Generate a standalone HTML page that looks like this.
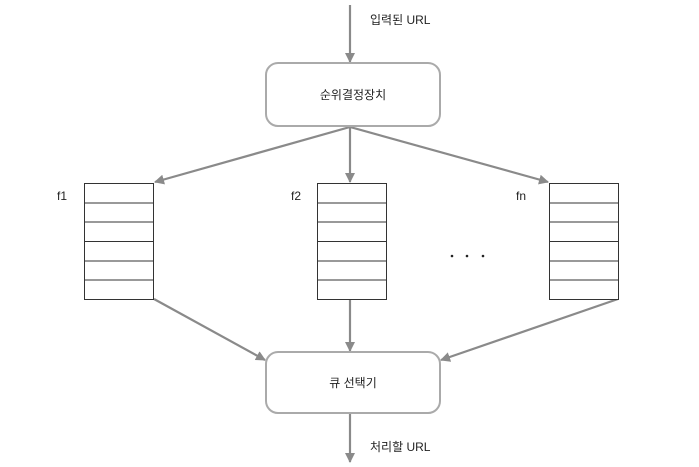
<!DOCTYPE html>
<html><head><meta charset="utf-8"><style>body{margin:0;background:#fff}svg{display:block}text{font-family:"Liberation Sans","Noto Sans CJK KR",sans-serif;font-size:12px;fill:#222}</style></head><body>
<svg width="699" height="467" viewBox="0 0 699 467">
<defs><marker id="a" markerWidth="10" markerHeight="10" refX="9" refY="5" orient="auto" markerUnits="userSpaceOnUse"><path d="M0,0 L10,5 L0,10 z" fill="#8a8a8a"/></marker></defs>
<g stroke="#8a8a8a" stroke-width="2.2" fill="none" marker-end="url(#a)">
<line x1="350" y1="5" x2="350" y2="62"/>
<line x1="350" y1="127" x2="155" y2="182"/>
<line x1="350" y1="127" x2="350" y2="182"/>
<line x1="350" y1="127" x2="548" y2="182"/>
<line x1="154" y1="299" x2="265" y2="360"/>
<line x1="350" y1="299" x2="350" y2="351"/>
<line x1="618" y1="299" x2="441" y2="360"/>
<line x1="350" y1="414" x2="350" y2="462"/>
</g>
<rect x="266" y="63" width="174" height="63" rx="12" fill="#fff" stroke="#aaa" stroke-width="2"/>
<rect x="266" y="352" width="174" height="61" rx="12" fill="#fff" stroke="#aaa" stroke-width="2"/>
<text x="353" y="99" text-anchor="middle">순위결정장치</text>
<text x="353" y="387" text-anchor="middle">큐 선택기</text>
<text x="370" y="24">입력된 URL</text>
<text x="370" y="451">처리할 URL</text>
<text x="57" y="200">f1</text><text x="291" y="200">f2</text><text x="516" y="200">fn</text>
<g fill="#222"><circle cx="452" cy="256" r="1.3"/><circle cx="467" cy="256" r="1.3"/><circle cx="483" cy="256" r="1.3"/></g>
<g stroke="#333" stroke-width="1" fill="#fff">
<g id="q"><rect x="84.5" y="183.5" width="69" height="116"/>
<line x1="84.5" y1="203" x2="153.5" y2="203"/><line x1="84.5" y1="222" x2="153.5" y2="222"/><line x1="84.5" y1="241.5" x2="153.5" y2="241.5"/><line x1="84.5" y1="261" x2="153.5" y2="261"/><line x1="84.5" y1="280" x2="153.5" y2="280"/></g>
<use href="#q" x="233"/><use href="#q" x="465"/>
</g>
</svg></body></html>
